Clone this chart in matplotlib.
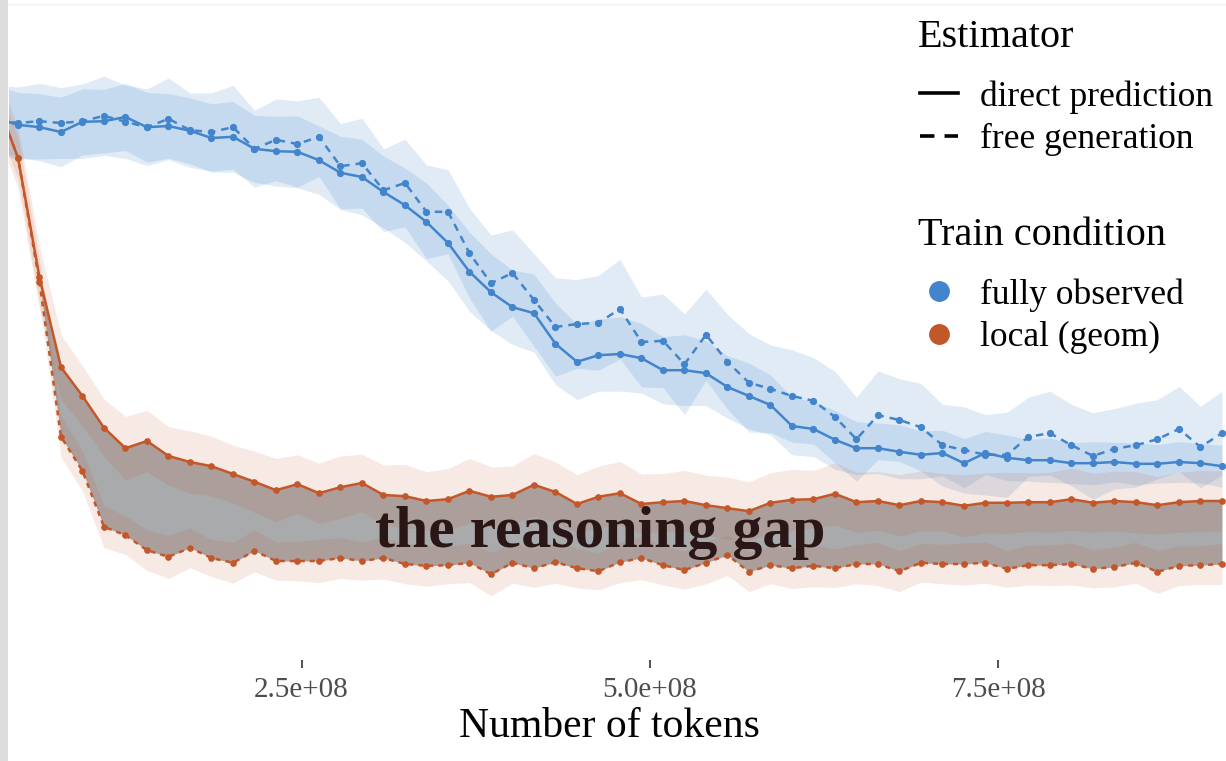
import numpy as np
import matplotlib.pyplot as plt
from matplotlib.lines import Line2D
from matplotlib.patches import Rectangle

# training checkpoints (tokens seen)
tokens = 3.12e7 + 1.5423e7 * np.arange(58)

# error by estimator, fully observed training
full_direct = [90.3, 89.2, 88.8, 88.0, 89.7, 89.8, 90.5, 88.8, 89.0, 88.2,
               87.0, 87.2, 85.2, 84.8, 84.7, 83.3, 81.2, 80.5, 78.0, 75.8,
               73.0, 69.5, 64.7, 61.3, 58.8, 57.8, 52.7, 49.7, 50.8, 51.0,
               50.3, 48.3, 48.3, 47.8, 45.5, 44.0, 42.5, 39.0, 38.5, 36.7,
               35.3, 35.3, 34.7, 34.2, 34.5, 32.8, 34.5, 33.7, 33.3, 33.3,
               32.8, 32.8, 33.0, 32.7, 32.7, 33.0, 32.8, 32.3]
full_free = [90.0, 89.5, 89.8, 89.5, 89.8, 90.7, 89.7, 88.8, 90.2, 88.3,
             88.0, 88.8, 85.2, 86.7, 86.0, 87.2, 82.3, 82.8, 78.3, 79.5,
             74.7, 74.7, 67.8, 62.8, 64.5, 60.0, 55.5, 56.0, 56.2, 58.5,
             53.0, 53.2, 49.3, 54.2, 49.7, 46.2, 45.2, 44.0, 43.2, 40.5,
             36.8, 40.8, 40.0, 38.8, 35.8, 35.0, 34.2, 34.2, 37.2, 37.8,
             35.8, 34.0, 35.2, 35.8, 36.8, 38.5, 35.5, 37.8]

# error by estimator, local (geom) training
local_direct = [93.3, 83.7, 63.8, 48.8, 44.0, 38.7, 35.3, 36.5, 34.0, 33.0,
                32.3, 31.0, 29.7, 28.3, 29.3, 27.8, 28.8, 29.5, 27.5, 27.3,
                26.5, 26.8, 28.2, 27.2, 27.5, 29.2, 28.0, 26.0, 27.2, 27.8,
                26.0, 26.3, 26.5, 25.8, 25.3, 24.8, 26.2, 26.7, 26.8, 27.7,
                26.3, 26.5, 25.8, 26.5, 26.3, 25.7, 26.2, 26.2, 26.3, 26.3,
                26.8, 26.2, 26.5, 26.3, 25.8, 26.3, 26.5, 26.5]
local_free = [93.3, 83.7, 63.0, 37.2, 31.5, 22.2, 20.8, 18.3, 17.2, 18.7,
              17.0, 16.2, 18.2, 16.5, 16.5, 16.5, 17.0, 16.5, 17.0, 16.0,
              15.7, 15.8, 16.2, 14.3, 16.2, 15.3, 16.3, 15.3, 14.8, 16.3,
              17.0, 15.8, 15.0, 16.2, 17.5, 14.7, 15.8, 15.3, 15.7, 15.3,
              16.0, 16.0, 14.8, 16.2, 16.0, 16.0, 16.2, 15.2, 15.8, 15.8,
              16.0, 15.2, 15.5, 16.2, 14.7, 15.7, 15.8, 16.0]

# half-widths of the uncertainty bands
full_direct_hw = [5.5, 5.4, 5.6, 5.8, 5.5, 5.3, 5.6, 5.8, 5.4, 5.5, 5.7, 5.9,
                  5.6, 5.8, 6.0, 5.7, 6.1, 6.3, 6.0, 6.2, 6.5, 6.3, 6.6, 6.4,
                  6.2, 6.5, 6.8, 6.3, 6.0, 6.2, 5.8, 5.6, 5.9, 5.4, 5.2, 5.5,
                  5.0, 4.8, 4.6, 4.9, 4.4, 4.2, 4.5, 4.0, 3.8, 4.1, 3.6, 3.8,
                  3.5, 3.7, 3.4, 3.6, 3.3, 3.5, 3.2, 3.4, 3.3, 3.5]
full_free_hw = [5.8, 6.0, 6.3, 5.9, 6.2, 6.6, 6.1, 6.4, 6.8, 6.2, 6.5, 7.0,
                6.4, 6.8, 7.2, 6.6, 7.1, 7.5, 6.9, 7.3, 7.8, 7.0, 7.5, 8.0,
                7.2, 7.7, 8.2, 7.4, 7.9, 8.3, 7.5, 7.8, 8.4, 7.6, 7.9, 8.2,
                7.3, 7.7, 7.2, 7.6, 7.0, 7.4, 6.9, 7.3, 6.8, 7.2, 6.7, 7.1,
                6.6, 7.0, 6.8, 7.2, 6.7, 7.0, 6.6, 7.1, 6.8, 7.0]
local_direct_hw = [5.0, 5.0, 5.2, 5.4, 5.0, 4.8, 5.3, 5.1, 4.9, 5.2, 5.0, 4.8,
                   5.1, 5.3, 4.9, 5.0, 5.2, 4.8, 5.0, 5.3, 4.9, 5.1, 5.4, 5.0,
                   4.8, 5.2, 5.0, 4.9, 5.1, 5.3, 5.0, 4.8, 5.1, 5.0, 5.2, 4.9,
                   5.0, 5.1, 4.8, 5.2, 5.0, 4.9, 5.1, 5.0, 4.8, 5.2, 5.0, 5.1,
                   4.9, 5.0, 5.2, 4.9, 5.0, 5.1, 4.8, 5.0, 5.1, 5.0]
local_free_hw = [3.5, 3.5, 3.6, 3.4, 3.3, 3.5, 3.2, 3.4, 3.6, 3.3, 3.1, 3.4,
                 3.5, 3.2, 3.3, 3.6, 3.4, 3.2, 3.5, 3.3, 3.4, 3.1, 3.3, 3.6,
                 3.4, 3.2, 3.5, 3.3, 3.1, 3.4, 3.6, 3.3, 3.2, 3.5, 3.4, 3.3,
                 3.1, 3.4, 3.5, 3.2, 3.3, 3.6, 3.4, 3.2, 3.3, 3.5, 3.4, 3.1,
                 3.3, 3.4, 3.5, 3.2, 3.3, 3.4, 3.6, 3.3, 3.2, 3.4]

tick_values = [2.5e8, 5.0e8, 7.5e8]
tick_labels = ["2.5e+08", "5.0e+08", "7.5e+08"]

BLUE = "#4285cc"
ORANGE = "#c4572a"
GAP = "#a9aaac"
SERIF = "Liberation Serif"

W, H = 1226, 761
fig = plt.figure(figsize=(W / 100, H / 100), dpi=100)
ax = fig.add_axes([9 / W, 101 / H, 1217 / W, 660 / H])

x = tokens
fd, ff = np.array(full_direct), np.array(full_free)
ld, lf = np.array(local_direct), np.array(local_free)

# uncertainty bands
ax.fill_between(x, fd - full_direct_hw, fd + np.array(full_direct_hw),
                color=BLUE, alpha=0.16, lw=0, zorder=1)
ax.fill_between(x, ff - full_free_hw, ff + np.array(full_free_hw),
                color=BLUE, alpha=0.16, lw=0, zorder=1)

# the gap between direct prediction and free generation
ax.fill_between(x, lf, ld, color=GAP, lw=0, zorder=2)

ax.fill_between(x, ld - local_direct_hw, ld + np.array(local_direct_hw),
                color=ORANGE, alpha=0.13, lw=0, zorder=3)
ax.fill_between(x, lf - local_free_hw, lf + np.array(local_free_hw),
                color=ORANGE, alpha=0.13, lw=0, zorder=3)

# series
ax.plot(x, fd, color=BLUE, lw=1.8, marker="o", ms=4.2, zorder=5)
ax.plot(x, ff, color=BLUE, lw=1.8, dashes=(3, 2.4), marker="o", ms=4.2, zorder=5)
ax.plot(x, ld, color=ORANGE, lw=1.8, marker="o", ms=3.8, zorder=5)
ax.plot(x, lf, color=ORANGE, lw=1.8, dashes=(2, 2), marker="o", ms=3.8, zorder=5)

ax.text(4.64e8, 18.8, "the reasoning gap", ha="center", va="baseline",
        fontsize=43, fontweight="bold", family=SERIF, color="#2a1616", zorder=6)

ax.set_xlim(0.4017e8, 9.132e8)
ax.set_ylim(0, 110)
for s in ax.spines.values():
    s.set_visible(False)
ax.set_yticks([])
ax.set_xticks(tick_values)
ax.set_xticklabels(tick_labels, family=SERIF, fontsize=21, color="#4d4d4d")
ax.tick_params(axis="x", length=5.5, width=1.2, color="#333333", pad=7)
ax.set_xlabel("Number of tokens", family=SERIF, fontsize=30)
ax.xaxis.set_label_coords(0.493, -0.072)

# legends
fig.text(918 / W, 1 - 47 / H, "Estimator", family=SERIF, fontsize=29,
         va="baseline", ha="left")
fig.text(918 / W, 1 - 245 / H, "Train condition", family=SERIF, fontsize=29,
         va="baseline", ha="left")

style_handles = [
    Line2D([], [], color="black", lw=2.6, label="direct prediction"),
    Line2D([], [], color="black", lw=2.6, dashes=(4, 2.8), label="free generation"),
]
cond_handles = [
    Line2D([], [], color=BLUE, lw=0, marker="o", ms=14, label="fully observed"),
    Line2D([], [], color=ORANGE, lw=0, marker="o", ms=14, label="local (geom)"),
]
common = dict(loc="upper left", frameon=False, prop=dict(family=SERIF, size=25.5),
              handlelength=1.07, handletextpad=0.62, labelspacing=0.27,
              borderpad=0, borderaxespad=0)
fig.legend(handles=style_handles, bbox_to_anchor=(920 / W, 1 - 80 / H), **common)
fig.legend(handles=cond_handles, bbox_to_anchor=(920 / W, 1 - 278 / H), **common)

# frame edges
fig.patches.append(Rectangle((0, 0), 8 / W, 1, transform=fig.transFigure,
                             color="#dcdcdc", lw=0, zorder=10))
fig.lines.append(Line2D([0, 1], [1 - 4 / H, 1 - 4 / H], transform=fig.transFigure,
                        color="#f0f0f0", lw=1))

fig.savefig("out.png", dpi=100)
